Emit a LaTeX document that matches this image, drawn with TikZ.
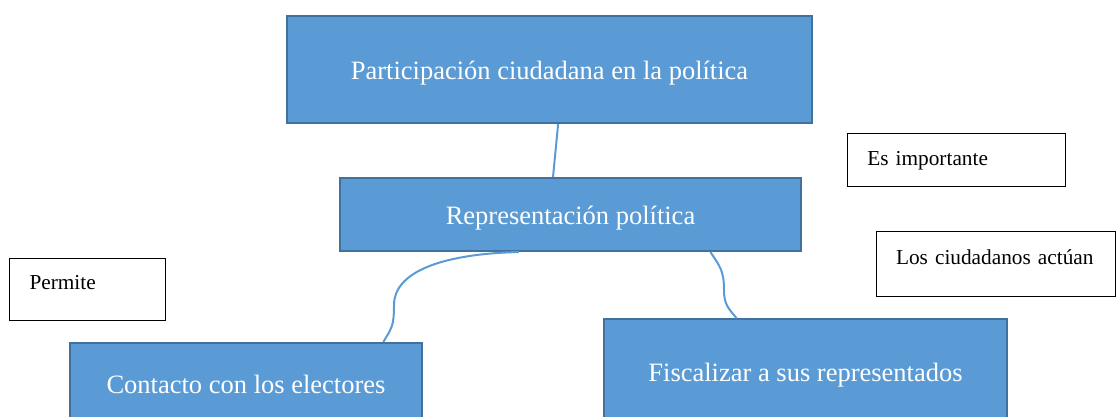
\documentclass[tikz,border=0pt]{standalone}
\usepackage{fontspec}
\setmainfont{Liberation Serif}
\usepackage{xcolor}
\usepackage{tikz}

\definecolor{boxfill}{HTML}{5B9BD5}
\definecolor{boxline}{HTML}{41719C}

\begin{document}
\begin{tikzpicture}[x=1pt, y=-1pt]
\tikzstyle{bluebox} = [rectangle, fill=boxfill, draw=boxline, line width=2pt, text=white, font=\fontsize{26.5}{30}\selectfont, inner sep=0pt, text height=22pt, text depth=2.5pt]
\tikzstyle{notebox} = [rectangle, draw=black, line width=1pt, font=\fontsize{21.3}{25}\selectfont, align=left, inner xsep=20pt, inner ysep=0pt, text height=15pt, text depth=5pt]
\tikzstyle{link} = [draw=boxfill, line width=2pt]
\useasboundingbox (0,0) rectangle (1116,416);
\clip (0,0) rectangle (1116,416);
\node[bluebox, minimum width=525pt, minimum height=107pt] (part) at (549.5,69.5) {Participación ciudadana en la política};
\node[bluebox, minimum width=461pt, minimum height=73pt] (rep) at (570.5,214.5) {Representación política};
\node[bluebox, minimum width=352pt, minimum height=82pt] (cont) at (246,384) {Contacto con los electores};
\node[bluebox, minimum width=403pt, minimum height=105.5pt] (fisc) at (805.5,372.2) {Fiscalizar a sus representados};
\node[notebox, minimum width=218pt, minimum height=53.4pt, text width=178pt] (imp) at (956.3,160) {Es importante};
\node[notebox, minimum width=239pt, minimum height=65pt, text width=199pt, text depth=15pt] (ciud) at (995.5,264.2) {Los ciudadanos actúan};
\node[notebox, minimum width=156.3pt, minimum height=61.7pt, text width=116pt, text depth=15pt] (perm) at (87.5,289.2) {Permite};
% connectors
\draw[link] (part.279) -- (rep.115);
\draw[link] (rep.216) .. controls +(-80,2) and +(0,-32) .. (394,305) .. controls +(0,22) and +(8,-14) .. (cont.17.5);
\draw[link] (rep.345.6) .. controls +(9,14) and +(0,-20) .. (724,290) .. controls +(0,15) and +(-8,-10) .. (fisc.142);
\end{tikzpicture}
\end{document}
